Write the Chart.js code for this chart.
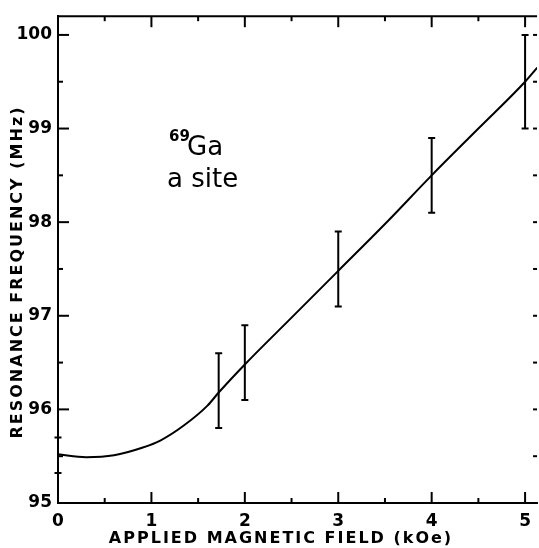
<!DOCTYPE html>
<html>
<head>
<meta charset="utf-8">
<script src="https://cdn.jsdelivr.net/npm/chart.js@4"></script>
<style>
  html, body { margin: 0; padding: 0; background: #fff; }
  #wrap { width: 539px; height: 548px; position: relative; }
</style>
</head>
<body>
<div id="wrap"><canvas id="myChart" width="539" height="548"></canvas></div>
<script>
// measured points with error bars
const fieldPts = [0, 1.72, 2, 3, 4, 5];
const freqPts = [95.52, 96.2, 96.5, 97.5, 98.5, 99.5];
const errLow = [95.32, 95.8, 96.1, 97.1, 98.1, 99.0];
const errHigh = [95.7, 96.6, 96.9, 97.9, 98.9, 100.0];

// fitted curve
const curveField = [0, 0.3, 0.6, 0.9, 1.1, 1.35, 1.6, 1.72, 2.0, 2.5, 3.0, 3.5, 4.0, 4.5, 5.0, 5.13];
const curveFreq = [95.52, 95.49, 95.51, 95.59, 95.67, 95.83, 96.04, 96.18, 96.48, 96.98, 97.48, 97.98, 98.5, 99.0, 99.5, 99.65];

const xTicks = [0, 1, 2, 3, 4, 5];
const yTicks = [95, 96, 97, 98, 99, 100];
const xTitle = 'APPLIED MAGNETIC FIELD (kOe)';
const yTitle = 'RESONANCE FREQUENCY (MHz)';

const labelFont = { family: 'DejaVu Sans', size: 17, weight: 'bold' };

// inward ticks, top border, error bars, titles, annotation
const extras = {
    id: 'extras',
    afterDatasetsDraw(chart) {
        const ctx = chart.ctx;
        const xs = chart.scales.x, ys = chart.scales.y;
        const a = chart.chartArea;
        ctx.save();
        ctx.strokeStyle = '#000';
        ctx.lineWidth = 2;

        // top border
        ctx.beginPath();
        ctx.moveTo(a.left, a.top);
        ctx.lineTo(a.right, a.top);
        ctx.stroke();

        // x ticks (bottom and top), majors and halves
        for (let v = 0; v <= xs.max; v += 0.5) {
            const px = xs.getPixelForValue(v);
            const len = Number.isInteger(v) ? 11 : 5;
            if (v > 0) {
                ctx.beginPath();
                ctx.moveTo(px, a.bottom);
                ctx.lineTo(px, a.bottom - len);
                ctx.stroke();
            }
            ctx.beginPath();
            ctx.moveTo(px, a.top);
            ctx.lineTo(px, a.top + len);
            ctx.stroke();
        }
        // y ticks (left and right)
        for (let v = ys.min; v <= 100; v += 0.5) {
            const py = ys.getPixelForValue(v);
            const len = Number.isInteger(v) ? 11 : 5;
            ctx.beginPath();
            ctx.moveTo(a.left, py);
            ctx.lineTo(a.left + len, py);
            ctx.stroke();
            ctx.beginPath();
            ctx.moveTo(a.right, py);
            ctx.lineTo(a.right - 4, py);
            ctx.stroke();
        }

        // error bars
        for (let i = 0; i < fieldPts.length; i++) {
            const px = xs.getPixelForValue(fieldPts[i]);
            const lo = ys.getPixelForValue(errLow[i]);
            const hi = ys.getPixelForValue(errHigh[i]);
            ctx.beginPath();
            ctx.moveTo(px, lo);
            ctx.lineTo(px, hi);
            ctx.moveTo(px - 3.5, lo);
            ctx.lineTo(px + 3.5, lo);
            ctx.moveTo(px - 3.5, hi);
            ctx.lineTo(px + 3.5, hi);
            ctx.stroke();
        }

        // axis titles
        ctx.fillStyle = '#000';
        ctx.font = 'bold 16px "DejaVu Sans"';
        ctx.letterSpacing = '2px';
        ctx.textAlign = 'center';
        ctx.textBaseline = 'middle';
        ctx.fillText(xTitle, 281, 539);
        ctx.save();
        ctx.translate(18, 272);
        ctx.rotate(-Math.PI / 2);
        ctx.fillText(yTitle, 0, 0);
        ctx.restore();

        // annotation
        ctx.letterSpacing = '0px';
        ctx.textAlign = 'left';
        ctx.textBaseline = 'alphabetic';
        ctx.font = 'bold 15px "DejaVu Sans"';
        ctx.fillText('69', 169, 141);
        ctx.font = '26px "DejaVu Sans"';
        ctx.fillText('Ga', 187, 155);
        ctx.fillText('a site', 167, 187);
        ctx.restore();
    }
};

const ctx = document.getElementById('myChart').getContext('2d');
const chart = new Chart(ctx, {
    type: 'scatter',
    data: {
        datasets: [{
            label: 'fit',
            data: curveField.map((x, i) => ({ x: x, y: curveFreq[i] })),
            showLine: true,
            borderColor: '#000',
            borderWidth: 2,
            pointRadius: 0,
            cubicInterpolationMode: 'monotone'
        }, {
            label: 'measured',
            data: fieldPts.map((x, i) => ({ x: x, y: freqPts[i] })),
            pointRadius: 0,
            borderColor: '#000'
        }]
    },
    options: {
        responsive: false,
        animation: false,
        layout: { padding: { top: 13, right: 0, left: 0, bottom: 0 } },
        plugins: {
            legend: { display: false },
            tooltip: { enabled: false }
        },
        scales: {
            x: {
                type: 'linear',
                min: 0,
                max: 5.128,
                afterBuildTicks: (s) => { s.ticks = xTicks.map(v => ({ value: v })); },
                afterFit: (s) => { s.height = 45; },
                grid: { display: false, drawTicks: false },
                border: { display: true, color: '#000', width: 2 },
                ticks: { color: '#000', font: labelFont, padding: 8, maxRotation: 0 }
            },
            y: {
                type: 'linear',
                min: 95,
                max: 100.2,
                afterBuildTicks: (s) => { s.ticks = yTicks.map(v => ({ value: v })); },
                afterFit: (s) => { s.width = 58; },
                grid: { display: false, drawTicks: false },
                border: { display: true, color: '#000', width: 2 },
                ticks: { color: '#000', font: labelFont, padding: 6 }
            }
        }
    },
    plugins: [extras]
});
</script>
</body>
</html>
